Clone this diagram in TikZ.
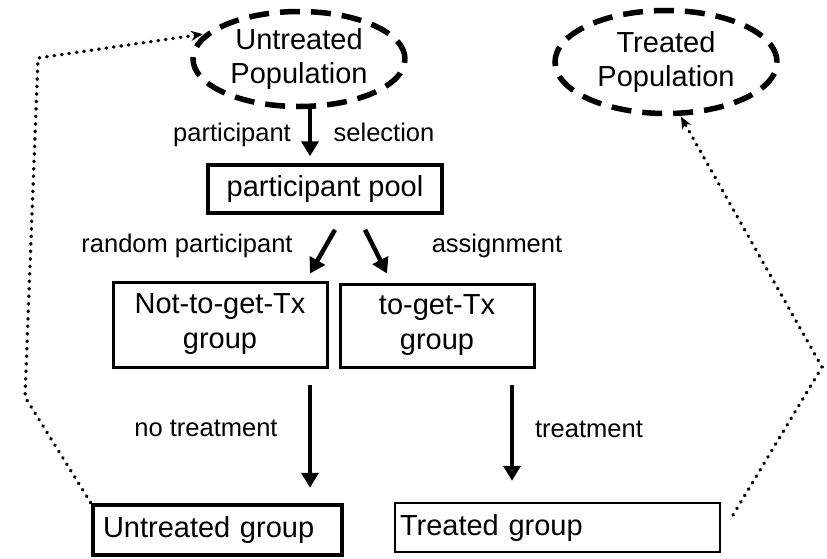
\documentclass[tikz,border=0pt]{standalone}
\usepackage{fontspec}
\setmainfont{Liberation Sans}
\usetikzlibrary{shapes.geometric,arrows.meta,calc}
\begin{document}
\begin{tikzpicture}[x=1pt,y=-1pt,
  pop/.style={ellipse,draw,line width=5.5pt,dash pattern=on 20pt off 11pt,align=center,font=\fontsize{29}{34}\selectfont,inner sep=0pt},
  box/.style={rectangle,draw,align=center,font=\fontsize{29}{35}\selectfont,inner sep=0pt},
  lbl/.style={font=\fontsize{25.5}{30}\selectfont,inner sep=0pt,anchor=base},
  bigarrow/.style={line width=4.5pt,-{Triangle[length=15pt,width=17pt]}},
  dotline/.style={line width=3.4pt,line cap=round,dash pattern=on 0.6pt off 6.9pt,-{Stealth[length=12pt,width=10pt]}}
]
\useasboundingbox (0,0) rectangle (827,558);

% populations
\node[pop,minimum width=212pt,minimum height=95pt] (upop) at (299,59) {Untreated\\Population};
\node[pop,minimum width=222pt,minimum height=103pt] (tpop) at (666,62) {Treated\\Population};

% boxes
\node[box,line width=3.5pt,minimum width=234pt,minimum height=48pt] (pool) at (325,189) {participant pool};
\node[box,line width=3pt,minimum width=214pt,minimum height=85pt] (notx) at (220,324.5) {Not-to-get-Tx\\group};
\node[box,line width=3pt,minimum width=194pt,minimum height=83pt] (totx) at (437,325.5) {to-get-Tx\\group};
\node[box,line width=4.5pt,text width=229pt,align=left,inner xsep=10pt,minimum height=50pt] (ugroup) at (217.5,530) {Untreated group};
\node[box,line width=2.5pt,text width=315pt,align=left,inner xsep=5pt,minimum height=49pt] (tgroup) at (557.5,527.5) {Treated group};

% labels
\node[lbl] (lpart) at (232,141) {participant};
\node[lbl] (lsel) at (384,141) {selection};
\node[lbl] (lrand) at (187,252) {random participant};
\node[lbl] (lassign) at (497,252) {assignment};
\node[lbl] (lno) at (206,436) {no treatment};
\node[lbl] (ltr) at (589,437) {treatment};

% solid arrows
\draw[bigarrow] ([xshift=11pt]upop.south) -- ([xshift=-15pt,yshift=7pt]pool.north);
\draw[bigarrow] ([shift={(10pt,-15pt)}]pool.south) -- ([shift={(90pt,7pt)}]notx.north);
\draw[bigarrow] ([shift={(40pt,-15pt)}]pool.south) -- ([shift={(-50pt,9pt)}]totx.north);
\draw[bigarrow] ([shift={(90pt,-16pt)}]notx.south) -- ([shift={(92.5pt,15pt)}]ugroup.north);
\draw[bigarrow] ([shift={(75pt,-16pt)}]totx.south) -- ([shift={(-45.5pt,21pt)}]tgroup.north);

% dotted feedback arrows
\coordinate (l1) at (25,397);
\coordinate (l2) at (38,58);
\draw[dotline,shorten >=2pt] (ugroup.north west) -- (l1) -- (l2) -- (upop.165);
\coordinate (r0) at (733,515);
\coordinate (r1) at (822,367);
\draw[dotline,shorten >=1pt] (r0) -- (r1) -- (tpop.-75);
\end{tikzpicture}
\end{document}
